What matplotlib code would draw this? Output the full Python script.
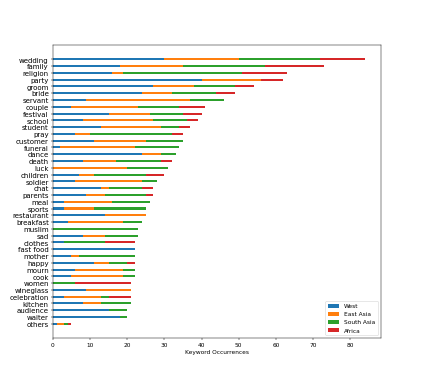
import numpy as np
import matplotlib
matplotlib.use("Agg")
import matplotlib.pyplot as plt

keywords = ["wedding", "family", "religion", "party", "groom", "bride", "servant",
            "couple", "festival", "school", "student", "pray", "customer", "funeral",
            "dance", "death", "luck", "children", "soldier", "chat", "parents", "meal",
            "sports", "restaurant", "breakfast", "muslim", "sad", "clothes", "fast food",
            "mother", "happy", "mourn", "cook", "women", "wineglass", "celebration",
            "kitchen", "audience", "waiter", "others"]

west =       [30, 18, 16, 40, 27, 24, 9, 5, 15, 8, 13, 6, 11, 2, 24, 8, 0, 7, 6, 13,
              9, 3, 3, 14, 4, 0, 8, 3, 22, 5, 11, 6, 5, 0, 9, 3, 8, 15, 18, 1]
east_asia =  [20, 17, 3, 16, 11, 8, 28, 18, 11, 19, 16, 4, 14, 20, 5, 9, 20, 4, 18, 2,
              5, 13, 8, 11, 15, 0, 6, 0, 0, 2, 4, 13, 14, 0, 12, 10, 5, 0, 0, 2]
south_asia = [22, 22, 32, 0, 11, 12, 9, 11, 9, 9, 5, 22, 10, 12, 4, 12, 11, 14, 4, 9,
              11, 10, 14, 0, 5, 23, 9, 11, 0, 15, 5, 3, 3, 6, 0, 2, 8, 5, 2, 1]
africa =     [12, 16, 12, 6, 5, 5, 0, 7, 5, 3, 3, 3, 0, 0, 0, 3, 0, 5, 0, 3,
              2, 0, 0, 0, 0, 0, 0, 8, 0, 0, 2, 0, 0, 15, 0, 6, 0, 0, 0, 1]

regions = ["West", "East Asia", "South Asia", "Africa"]
series = [west, east_asia, south_asia, africa]

fig, ax = plt.subplots(figsize=(10, 9), dpi=42.3)

y = np.arange(len(keywords))
left = np.zeros(len(keywords))
for name, vals in zip(regions, series):
    vals = np.array(vals, dtype=float)
    ax.barh(y, vals, height=0.3, left=left, label=name)
    left += vals

ax.set_yticks(y)
ax.set_yticklabels(keywords, fontsize=12)
ax.invert_yaxis()
ax.set_xlabel("Keyword Occurrences")
ax.legend(loc="lower right")

fig.savefig("out.png", dpi=42.3)
